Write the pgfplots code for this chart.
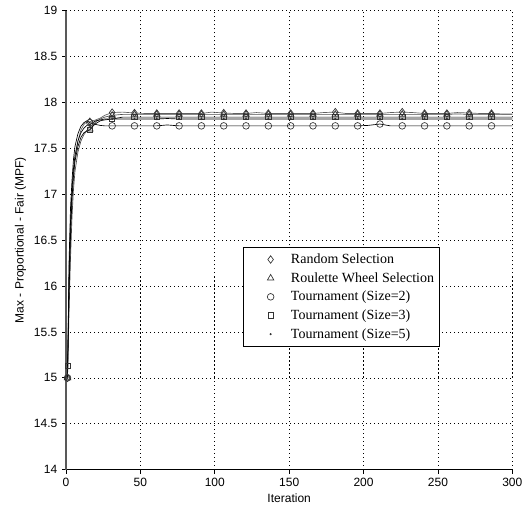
\documentclass[border=0pt]{standalone}
\usepackage{fontspec}
\setmainfont{Liberation Sans}
\newfontfamily\legfont{Liberation Serif}
\usepackage{pgfplots}
\usepackage{pgfplotstable}
\pgfplotsset{compat=1.18}

% iteration, random, roulette, tournament 2, 3, 5
\pgfplotstableread{
x    rnd     rw      tt      tq      tf
1    15.00   15.00   15.00   15.13   15.00
2    15.95   15.70   16.25   15.90   16.10
3    16.55   16.30   16.85   16.55   16.70
4    16.95   16.75   17.15   16.95   17.05
5    17.20   17.05   17.38   17.20   17.28
6    17.38   17.25   17.52   17.36   17.42
8    17.58   17.46   17.66   17.52   17.58
10   17.70   17.58   17.74   17.62   17.67
12   17.76   17.65   17.78   17.67   17.72
14   17.79   17.69   17.80   17.69   17.75
16   17.79   17.71   17.78   17.70   17.76
18   17.80   17.75   17.77   17.74   17.78
20   17.81   17.79   17.76   17.77   17.80
23   17.83   17.82   17.75   17.80   17.81
26   17.86   17.84   17.745  17.81   17.82
31   17.89   17.86   17.745  17.82   17.82
38   17.895  17.87   17.745  17.84   17.82
46   17.885  17.87   17.745  17.84   17.82
53   17.88   17.87   17.745  17.84   17.82
61   17.88   17.87   17.745  17.84   17.82
68   17.88   17.87   17.755  17.84   17.825
76   17.88   17.87   17.745  17.84   17.82
83   17.88   17.87   17.745  17.84   17.82
91   17.88   17.87   17.745  17.84   17.82
98   17.895  17.87   17.745  17.84   17.82
106  17.885  17.87   17.745  17.84   17.82
113  17.88   17.87   17.745  17.84   17.82
121  17.88   17.87   17.745  17.84   17.82
128  17.89   17.87   17.745  17.84   17.82
136  17.88   17.87   17.745  17.84   17.82
143  17.88   17.87   17.745  17.84   17.82
151  17.88   17.87   17.745  17.84   17.82
158  17.88   17.87   17.745  17.84   17.82
166  17.88   17.87   17.745  17.84   17.82
173  17.89   17.87   17.745  17.84   17.82
181  17.895  17.87   17.745  17.84   17.82
188  17.88   17.87   17.745  17.84   17.82
196  17.88   17.87   17.745  17.84   17.82
203  17.88   17.87   17.75   17.84   17.82
211  17.88   17.87   17.765  17.84   17.82
218  17.89   17.87   17.745  17.84   17.82
226  17.895  17.87   17.745  17.84   17.82
233  17.89   17.87   17.745  17.84   17.82
241  17.88   17.87   17.745  17.84   17.82
248  17.88   17.87   17.745  17.84   17.82
256  17.88   17.87   17.745  17.84   17.82
263  17.89   17.875  17.745  17.84   17.82
271  17.885  17.87   17.745  17.84   17.82
278  17.88   17.87   17.745  17.84   17.82
286  17.88   17.87   17.745  17.84   17.82
293  17.875  17.87   17.745  17.84   17.82
300  17.875  17.87   17.745  17.84   17.82
}\data

\begin{document}
\begin{tikzpicture}
\begin{axis}[
    scale only axis,
    width=334.5pt, height=344pt,
    xmin=0, xmax=300, ymin=14, ymax=19,
    xtick={0,50,...,300},
    ytick={14,14.5,...,19},
    axis x line*=bottom, axis y line*=left,
    axis line style={-, line width=0.8pt},
    y axis line style={gray!70!black, line width=1.2pt},
    tick align=outside, major tick length=3pt,
    tick style={black, line width=0.6pt},
    grid=major,
    major grid style={black, line width=0.5pt, dash pattern=on 0.8pt off 2.2pt},
    tick label style={font=\fontsize{9}{10}\selectfont},
    label style={font=\fontsize{9}{10}\selectfont},
    /pgf/number format/assume math mode=true,
    xlabel={Iteration},
    ylabel={Max - Proportional - Fair (MPF)},
    xlabel style={yshift=2pt},
    ylabel style={yshift=-1pt},
    every axis plot/.append style={line width=0.5pt,
        mark indices={1,11,16,18,20,22,24,26,28,30,32,34,36,38,40,42,44,46,48,50},
        mark options={solid, line width=0.5pt, draw=black!80}},
    legend image code/.code={
        \path (-18pt,0pt) (13pt,0pt);
        \draw[mark indices={1}] plot coordinates {(0pt,0pt)};},
    legend style={at={(rel axis cs:0.397,0.486)}, anchor=north west,
        draw=black, line width=0.6pt,
        font=\legfont\fontsize{10.5}{13}\selectfont,
        row sep=1.2pt, inner xsep=2pt, inner ysep=3pt},
    legend cell align=left,
]
\addplot[gray!75!black, mark=diamond, mark size=2.8pt] table[x=x, y=rnd] {\data};
\addlegendentry{Random Selection}
\addplot[gray!60!black, mark=triangle, mark size=2.8pt] table[x=x, y=rw] {\data};
\addlegendentry{Roulette Wheel Selection}
\addplot[black, mark=o, mark size=2.5pt] table[x=x, y=tt] {\data};
\addlegendentry{Tournament (Size=2)}
\addplot[black, mark=square, mark size=2pt] table[x=x, y=tq] {\data};
\addlegendentry{Tournament (Size=3)}
\addplot[black, mark=*, mark size=0.5pt] table[x=x, y=tf] {\data};
\addlegendentry{Tournament (Size=5)}
\end{axis}
\path ([xshift=-49.5pt,yshift=-27pt]current axis.south west)
    rectangle ([xshift=14pt,yshift=8pt]current axis.north east);
\end{tikzpicture}
\end{document}
